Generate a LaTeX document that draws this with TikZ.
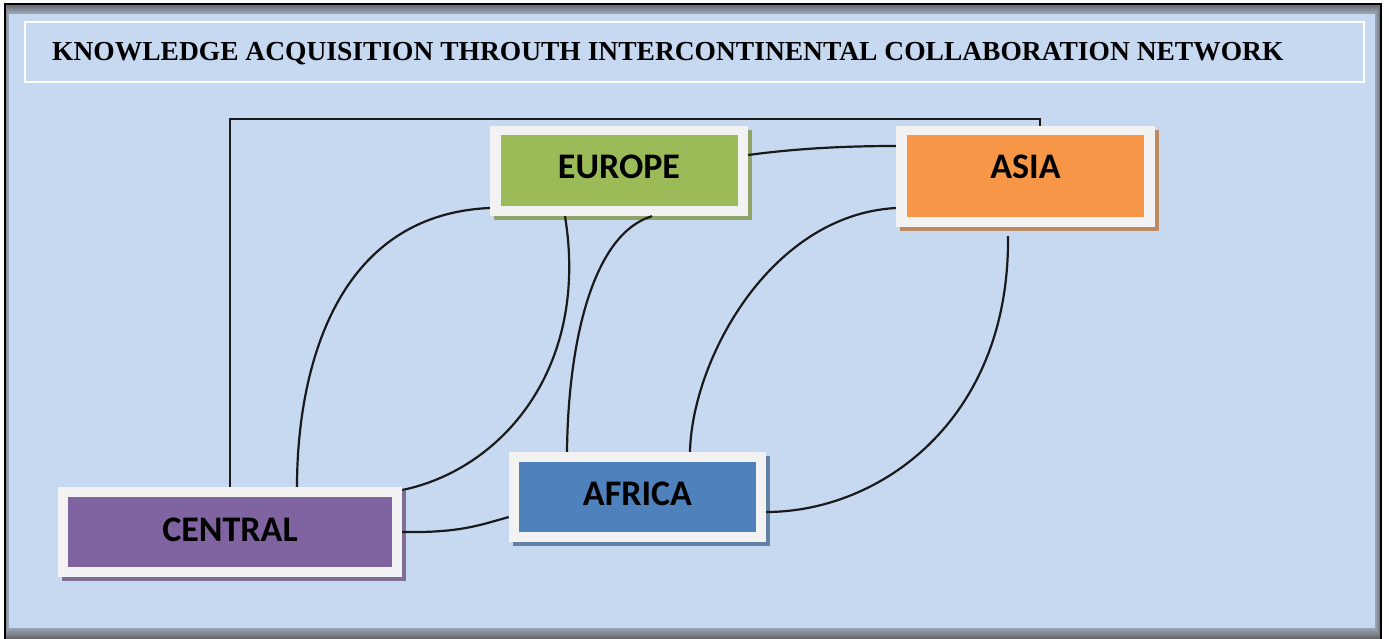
\documentclass[tikz,border=0pt]{standalone}
\usepackage{fontspec}
\setmainfont{Liberation Serif}
\newfontfamily\boxfont{Carlito}
\usetikzlibrary{shadows}
\definecolor{bgblue}{HTML}{C6D9F1}
\definecolor{framegray}{HTML}{F2F2F2}
\definecolor{eugreen}{HTML}{9BBB59}
\definecolor{asorange}{HTML}{F79646}
\definecolor{afblue}{HTML}{4F81BD}
\definecolor{cepurple}{HTML}{8064A2}
\definecolor{linecol}{HTML}{1A1A1A}
\begin{document}
\begin{tikzpicture}[x=1pt,y=-1pt,
  outerbox/.style={fill=framegray, inner sep=0pt, drop shadow={shadow xshift=4pt, shadow yshift=-4pt, opacity=1, fill=#1}},
  innerbox/.style={fill=#1, inner sep=0pt},
  labeltext/.style={inner sep=0pt, font=\boxfont\bfseries\fontsize{36}{40}\selectfont, text=black},
  conn/.style={draw=linecol, line width=2.2pt}]
\useasboundingbox (0,0) rectangle (1389,639);
\fill[white] (0,0) rectangle (1389,639);
\fill[bgblue] (5,4) rectangle (1381,650);
% inner glow of the frame
\foreach \i in {0,...,9}{
  \pgfmathsetmacro{\q}{10*\i}
  \draw[color=bgblue!\q!gray!80!black, line width=1.2pt] (5+0.35*\i,4+1.1*\i) rectangle (1381-0.6*\i,639-1.2*\i);
}
\draw[black, line width=2pt] (5,650) -- (5,4) -- (1381,4) -- (1381,650);
% title
\draw[white, line width=2pt] (25,22) rectangle (1364,82);
\node[anchor=base west, inner sep=0pt, font=\bfseries\fontsize{27.5}{30}\selectfont] (title) at (52,61) {KNOWLEDGE ACQUISITION THROUTH INTERCONTINENTAL COLLABORATION NETWORK};
% boxes
\node[outerbox=eugreen!60!gray, minimum width=258pt, minimum height=90pt] (europe) at (619,171) {};
\node[innerbox=eugreen, minimum width=237pt, minimum height=71pt] (europei) at (europe.center) {};
\node[labeltext] (europet) at ([yshift=4pt]europe.center) {EUROPE};
\node[outerbox=asorange!50!gray, minimum width=259pt, minimum height=101pt] (asia) at (1025.5,176.5) {};
\node[innerbox=asorange, minimum width=237pt, minimum height=82pt] (asiai) at (asia.center) {};
\node[labeltext] (asiat) at ([yshift=9.5pt]asia.center) {ASIA};
\node[outerbox=afblue!60!gray, minimum width=257pt, minimum height=90pt] (africa) at (637.5,497) {};
\node[innerbox=afblue, minimum width=237pt, minimum height=70pt] (africai) at (africa.center) {};
\node[labeltext] (africat) at ([yshift=3pt]africa.center) {AFRICA};
\node[outerbox=cepurple!60!gray, minimum width=344pt, minimum height=90pt] (central) at (230,532) {};
\node[innerbox=cepurple, minimum width=324pt, minimum height=70pt] (centrali) at (central.center) {};
\node[labeltext] (centralt) at ([yshift=2pt]central.center) {CENTRAL};
% connectors
\coordinate (tr) at (1040,119);
\draw[conn] (central.north) |- (tr) -- (tr |- asia.north);
\draw[conn] ([yshift=16pt]europe.east) .. controls (800,148) and (850,146) .. ([yshift=30.5pt]asia.west);
\draw[conn] ([yshift=-37pt]europe.west) .. controls (330,215) and (297,380) .. ([xshift=67pt]central.north);
\draw[conn] ([xshift=-54pt]europe.south) .. controls (590,370) and (500,470) .. ([yshift=42pt]central.east);
\draw[conn] ([xshift=33pt]europe.south) .. controls (590,235) and (568,350) .. ([xshift=-70.5pt]africa.north);
\draw[conn] ([yshift=-31.5pt]asia.west) .. controls (770,215) and (692,360) .. ([xshift=52.5pt]africa.north);
\coordinate (asb) at (1008,236);
\draw[conn] (asb) .. controls (1010,420) and (880,512) .. ([yshift=-15pt]africa.east);
\draw[conn] (central.east) .. controls (460,533) and (480,525) .. ([yshift=-20pt]africa.west);
\end{tikzpicture}
\end{document}
